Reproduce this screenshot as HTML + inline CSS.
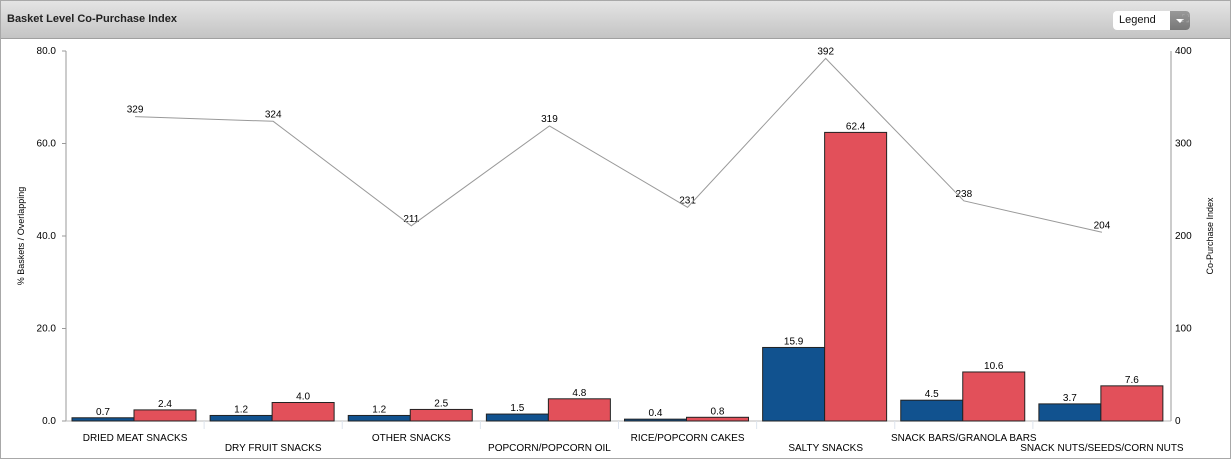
<!DOCTYPE html>
<html><head><meta charset="utf-8"><style>
body{margin:0;background:#fff;font-family:"Liberation Sans",Arial,sans-serif;}
.wrap{position:absolute;left:0;top:0;width:1229px;height:457px;border:1px solid #a8a8a8;overflow:hidden}
.hdr{position:absolute;left:0;top:0;width:1229px;height:37px;background:linear-gradient(#e4e4e4,#c4c4c4);border-bottom:1px solid #a0a0a0}
.title{position:absolute;left:6px;top:12px;font-size:11px;font-weight:bold;color:#222}
.leg{position:absolute;left:1112px;top:10px;width:77px;height:19px;background:#fff;border-radius:4px;font-size:11px;}
.leg span{position:absolute;left:6px;top:3px;color:#111}
.leg b{position:absolute;right:0;top:0;width:20px;height:19px;background:linear-gradient(#999,#777);border-radius:0 4px 4px 0}
.leg b:after{content:"";position:absolute;left:6px;top:8px;border-left:4px solid transparent;border-right:4px solid transparent;border-top:4px solid #fff}
</style></head><body>
<div class="wrap">
<div class="hdr"><div class="title">Basket Level Co-Purchase Index</div>
<div class="leg"><span>Legend</span><b></b></div>
<div style="position:absolute;left:1181px;top:13px;width:12px;height:12px;color:#aaa;font-size:10px;line-height:12px">⛶</div>
</div>
<svg width="1231" height="459" style="position:absolute;left:-1px;top:-1px" font-family="Liberation Sans, Arial, sans-serif" font-size="10">
<g id="c"></g>
</svg>
</div>
<script>
const cats=["DRIED MEAT SNACKS","DRY FRUIT SNACKS","OTHER SNACKS","POPCORN/POPCORN OIL","RICE/POPCORN CAKES","SALTY SNACKS","SNACK BARS/GRANOLA BARS","SNACK NUTS/SEEDS/CORN NUTS"];
const b=[0.7,1.2,1.2,1.5,0.4,15.9,4.5,3.7],r=[2.4,4.0,2.5,4.8,0.8,62.4,10.6,7.6],l=[329,324,211,319,231,392,238,204];
const X0=66,X1=1171,Y0=421,H=370,gw=(X1-X0)/8;let s='';
s+=`<line x1="${X0}" y1="51" x2="${X0}" y2="${Y0}" stroke="#999"/><line x1="${X1}" y1="51" x2="${X1}" y2="${Y0}" stroke="#999"/><line x1="${X0-4}" y1="${Y0}" x2="${X1}" y2="${Y0}" stroke="#bbb"/>`;
for(let i=0;i<=4;i++){let y=Y0-H*i/4;s+=`<line x1="${X0-4}" y1="${y}" x2="${X0}" y2="${y}" stroke="#999"/><text x="${X0-10}" y="${y+3}" text-anchor="end">${(i*20).toFixed(1)}</text><text x="${X1+4}" y="${y+3}">${i*100}</text>`;}
for(let i=1;i<8;i++){let x=X0+gw*i;s+=`<line x1="${x}" y1="${Y0}" x2="${x}" y2="${Y0+8}" stroke="#dde4ee"/>`}
let pts=[];
cats.forEach((c,i)=>{let g=X0+gw*i,bx=g+6,w=62;
let hb=b[i]/80*H,hr=r[i]/80*H;
s+=`<rect x="${bx}" y="${Y0-hb}" width="${w}" height="${hb}" fill="#11528f" stroke="#222" stroke-width="1"/>`;
s+=`<rect x="${bx+w}" y="${Y0-hr}" width="${w}" height="${hr}" fill="#e2505a" stroke="#222" stroke-width="1"/>`;
s+=`<text x="${bx+w/2}" y="${Y0-hb-3}" text-anchor="middle">${b[i].toFixed(1)}</text><text x="${bx+w*1.5}" y="${Y0-hr-3}" text-anchor="middle">${r[i].toFixed(1)}</text>`;
s+=`<text x="${g+gw/2}" y="${i%2?451:441}" text-anchor="middle">${c}</text>`;
let cx=g+gw/2,cy=Y0-l[i]/400*H;pts.push(cx+','+cy);
s+=`<text x="${cx}" y="${cy-4}" text-anchor="middle">${l[i]}</text>`;});
s+=`<polyline points="${pts.join(' ')}" fill="none" stroke="#999" stroke-width="1"/>`;
s+=`<text transform="translate(24,236) rotate(-90)" text-anchor="middle" font-size="9">% Baskets / Overlapping</text>`;
s+=`<text transform="translate(1213,236) rotate(-90)" text-anchor="middle" font-size="9">Co-Purchase Index</text>`;
document.getElementById('c').innerHTML=s;
</script>
</body></html>
